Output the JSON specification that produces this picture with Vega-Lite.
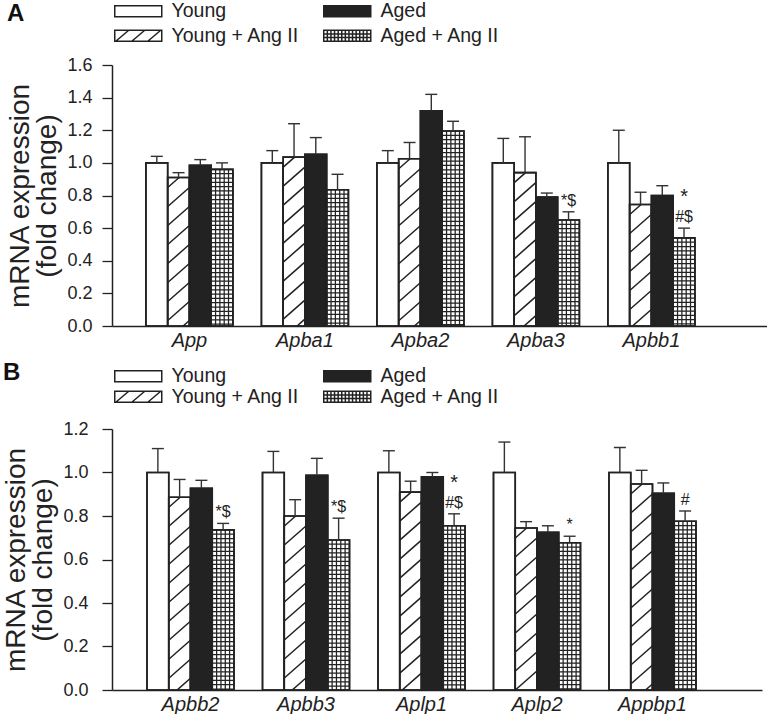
{
  "$schema": "https://vega.github.io/schema/vega-lite/v6.json",
  "padding": {"left": 2, "top": 1, "right": 0, "bottom": 0},
  "background": "white",
  "config": {"font": "Liberation Sans", "view": {"stroke": null}},
  "datasets": {
    "A": [
      {"gene": "App", "group": "Young", "value": 1.0, "err": 1.04},
      {"gene": "App", "group": "Young + Ang II", "value": 0.91, "err": 0.94},
      {"gene": "App", "group": "Aged", "value": 0.985, "err": 1.02},
      {"gene": "App", "group": "Aged + Ang II", "value": 0.96, "err": 1.0},
      {"gene": "Apba1", "group": "Young", "value": 1.0, "err": 1.075},
      {"gene": "Apba1", "group": "Young + Ang II", "value": 1.035, "err": 1.24},
      {"gene": "Apba1", "group": "Aged", "value": 1.053, "err": 1.155},
      {"gene": "Apba1", "group": "Aged + Ang II", "value": 0.835, "err": 0.93},
      {"gene": "Apba2", "group": "Young", "value": 1.0, "err": 1.075},
      {"gene": "Apba2", "group": "Young + Ang II", "value": 1.025, "err": 1.125},
      {"gene": "Apba2", "group": "Aged", "value": 1.32, "err": 1.42},
      {"gene": "Apba2", "group": "Aged + Ang II", "value": 1.195, "err": 1.255},
      {"gene": "Apba3", "group": "Young", "value": 1.0, "err": 1.15},
      {"gene": "Apba3", "group": "Young + Ang II", "value": 0.94, "err": 1.16},
      {"gene": "Apba3", "group": "Aged", "value": 0.79, "err": 0.815},
      {"gene": "Apba3", "group": "Aged + Ang II", "value": 0.65, "err": 0.7, "ann": "*$"},
      {"gene": "Apbb1", "group": "Young", "value": 1.0, "err": 1.2},
      {"gene": "Apbb1", "group": "Young + Ang II", "value": 0.745, "err": 0.82},
      {"gene": "Apbb1", "group": "Aged", "value": 0.8, "err": 0.86},
      {"gene": "Apbb1", "group": "Aged + Ang II", "value": 0.54, "err": 0.6, "ann": "#$", "ann2": "*"}
    ],
    "B": [
      {"gene": "Apbb2", "group": "Young", "value": 1.0, "err": 1.11},
      {"gene": "Apbb2", "group": "Young + Ang II", "value": 0.886, "err": 0.968},
      {"gene": "Apbb2", "group": "Aged", "value": 0.927, "err": 0.964},
      {"gene": "Apbb2", "group": "Aged + Ang II", "value": 0.736, "err": 0.766, "ann": "*$"},
      {"gene": "Apbb3", "group": "Young", "value": 1.0, "err": 1.097},
      {"gene": "Apbb3", "group": "Young + Ang II", "value": 0.8, "err": 0.875},
      {"gene": "Apbb3", "group": "Aged", "value": 0.987, "err": 1.065},
      {"gene": "Apbb3", "group": "Aged + Ang II", "value": 0.69, "err": 0.79, "ann": "*$"},
      {"gene": "Aplp1", "group": "Young", "value": 1.0, "err": 1.1},
      {"gene": "Aplp1", "group": "Young + Ang II", "value": 0.91, "err": 0.96},
      {"gene": "Aplp1", "group": "Aged", "value": 0.98, "err": 1.0},
      {"gene": "Aplp1", "group": "Aged + Ang II", "value": 0.755, "err": 0.81, "ann": "#$", "ann2": "*"},
      {"gene": "Aplp2", "group": "Young", "value": 1.0, "err": 1.14},
      {"gene": "Aplp2", "group": "Young + Ang II", "value": 0.745, "err": 0.774},
      {"gene": "Aplp2", "group": "Aged", "value": 0.725, "err": 0.755},
      {"gene": "Aplp2", "group": "Aged + Ang II", "value": 0.677, "err": 0.707, "ann": "*"},
      {"gene": "Appbp1", "group": "Young", "value": 1.0, "err": 1.115},
      {"gene": "Appbp1", "group": "Young + Ang II", "value": 0.947, "err": 1.01},
      {"gene": "Appbp1", "group": "Aged", "value": 0.904, "err": 0.952},
      {"gene": "Appbp1", "group": "Aged + Ang II", "value": 0.776, "err": 0.823, "ann": "#"}
    ]
  },
  "columns": 1,
  "align": "none",
  "spacing": 11,
  "resolve": {
    "scale": {"x": "independent", "y": "independent", "xOffset": "independent", "fill": "independent", "shape": "independent"},
    "legend": {"fill": "independent", "shape": "independent"}
  },
  "concat": [
    {
      "width": 655,
      "height": 261,
      "title": {"text": "A", "anchor": "start", "frame": "bounds", "fontSize": 24, "fontWeight": "bold", "color": "#111", "font": "Liberation Sans", "offset": 0, "dy": 25},
      "data": {"name": "A"},
      "encoding": {
        "x": {"field": "gene", "type": "nominal", "sort": null,
          "scale": {"paddingInner": 0.2468, "paddingOuter": 0.459, "align": 0.32},
          "axis": {"title": null, "ticks": false, "labelAngle": 0, "labelFont": "Liberation Sans", "labelFontSize": 20, "labelFontStyle": "italic", "labelColor": "#222", "labelPadding": 4, "domainColor": "#222", "domainWidth": 1.5}},
        "xOffset": {"field": "group", "type": "nominal", "sort": ["Young", "Young + Ang II", "Aged", "Aged + Ang II"]},
        "y": {"field": "value", "type": "quantitative", "scale": {"domain": [0, 1.6], "nice": false},
          "axis": {"title": ["mRNA expression", "(fold change)"], "values": [0, 0.2, 0.4, 0.6, 0.8, 1, 1.2, 1.4, 1.6], "format": ".1f", "grid": false, "domainColor": "#222", "domainWidth": 1.5, "tickColor": "#222", "tickWidth": 1.3, "tickSize": 10, "labelFont": "Liberation Sans", "labelFontSize": 18, "labelColor": "#222", "labelPadding": 10, "titleFont": "Liberation Sans", "titleFontSize": 28, "titleFontWeight": "normal", "titleColor": "#222", "titlePadding": 5, "titleLineHeight": 27}}
      },
      "layer": [
        {"mark": {"type": "bar", "stroke": "#222", "strokeWidth": 1.6},
          "encoding": {"fill": {"condition": {"test": "datum.group === 'Aged'", "value": "#222"}, "value": "white"}}},
        {"transform": [{"filter": "datum.group === 'Young + Ang II'"}],
          "mark": {"type": "point", "clip": true, "filled": false, "size": 4, "opacity": 1, "stroke": "#222", "strokeWidth": 1.5,
            "shape": "M-10.8,10L0.57,0M-10.8,29l21.6,-19m-21.6,38l21.6,-19m-21.6,38l21.6,-19m-21.6,38l21.6,-19m-21.6,38l21.6,-19m-21.6,38l21.6,-19m-21.6,38l21.6,-19m-21.6,38l21.6,-19m-21.6,38l21.6,-19m-21.6,38l21.6,-19m-21.6,38l21.6,-19m-21.6,38l21.6,-19m-21.6,38l21.6,-19m-21.6,38l21.6,-19m-21.6,38l21.6,-19"}},
        {"transform": [{"filter": "datum.group === 'Aged + Ang II'"}],
          "mark": {"type": "point", "clip": true, "filled": false, "size": 4, "opacity": 1, "stroke": "#222", "strokeWidth": 1.25,
            "shape": "M-6.48,0V300M-2.16,0V300M2.16,0V300M6.48,0V300M-10.8,4.3h21.6v4.3h-21.6v4.3h21.6v4.3h-21.6v4.3h21.6v4.3h-21.6v4.3h21.6v4.3h-21.6v4.3h21.6v4.3h-21.6v4.3h21.6v4.3h-21.6v4.3h21.6v4.3h-21.6v4.3h21.6v4.3h-21.6v4.3h21.6v4.3h-21.6v4.3h21.6v4.3h-21.6v4.3h21.6v4.3h-21.6v4.3h21.6v4.3h-21.6v4.3h21.6v4.3h-21.6v4.3h21.6v4.3h-21.6v4.3h21.6v4.3h-21.6v4.3h21.6v4.3h-21.6v4.3h21.6v4.3h-21.6v4.3h21.6v4.3h-21.6v4.3h21.6v4.3h-21.6v4.3h21.6v4.3h-21.6v4.3h21.6v4.3h-21.6v4.3h21.6v4.3h-21.6v4.3h21.6v4.3h-21.6v4.3h21.6v4.3h-21.6v4.3h21.6v4.3h-21.6v4.3h21.6v4.3h-21.6v4.3h21.6v4.3h-21.6v4.3h21.6v4.3h-21.6v4.3h21.6v4.3h-21.6v4.3h21.6v4.3h-21.6v4.3h21.6v4.3h-21.6v4.3h21.6v4.3h-21.6v4.3h21.6v4.3h-21.6v4.3h21.6v4.3h-21.6v4.3h21.6v4.3h-21.6v4.3h21.6v4.3h-21.6v4.3"}},
        {"mark": {"type": "bar", "fillOpacity": 0, "stroke": "#222", "strokeWidth": 1.6}},
        {"mark": {"type": "rule", "stroke": "#333", "strokeWidth": 1.4},
          "encoding": {"y2": {"field": "err"}}},
        {"mark": {"type": "tick", "size": 12, "thickness": 1.4, "color": "#333", "opacity": 1},
          "encoding": {"y": {"field": "err", "type": "quantitative", "scale": {"domain": [0, 1.6], "nice": false}}}},
        {"transform": [{"filter": "isValid(datum.ann)"}],
          "mark": {"type": "text", "baseline": "bottom", "align": "center", "dy": -3, "fontSize": 16, "font": "Liberation Sans", "fill": "#222"},
          "encoding": {"y": {"field": "err", "type": "quantitative", "scale": {"domain": [0, 1.6], "nice": false}}, "text": {"field": "ann"}}},
        {"transform": [{"filter": "isValid(datum.ann2)"}],
          "mark": {"type": "text", "baseline": "bottom", "align": "center", "dy": -21, "fontSize": 20, "font": "Liberation Sans", "fill": "#222"},
          "encoding": {"y": {"field": "err", "type": "quantitative", "scale": {"domain": [0, 1.6], "nice": false}}, "text": {"field": "ann2"}}},
        {"transform": [{"filter": "false"}],
          "mark": {"type": "point", "filled": true, "size": 4, "opacity": 1, "stroke": "#222", "strokeWidth": 1.4},
          "encoding": {
            "fill": {"field": "group", "type": "nominal",
              "scale": {"domain": ["Young", "Young + Ang II", "Aged", "Aged + Ang II"], "range": ["white", "white", "#222", "white"]},
              "legend": {"title": null, "orient": "none", "legendX": -7, "legendY": -64, "columns": 2, "labelFont": "Liberation Sans", "labelFontSize": 19.5, "labelColor": "#222", "labelOffset": 47, "labelLimit": 300, "columnPadding": 14, "rowPadding": 4, "symbolSize": 4,
                "encode": {"symbols": {"update": {"stroke": {"value": "#222"}, "strokeWidth": {"value": 1.4}}}}}},
            "shape": {"field": "group", "type": "nominal",
              "scale": {"domain": ["Young", "Young + Ang II", "Aged", "Aged + Ang II"], "range": [
                "M0,-5.5H47V5.5H0Z",
                "M0,-5.5H47V5.5H0Z M1,5.5L14,-5.5 M17,5.5L30,-5.5 M33,5.5L46,-5.5",
                "M0,-5.5H47V5.5H0Z",
                "M0,-5.5H47V5.5H0Z M0,-1.8H47 M0,1.8H47 M3.6,-5.5V5.5 M7.2,-5.5V5.5 M10.8,-5.5V5.5 M14.4,-5.5V5.5 M18,-5.5V5.5 M21.6,-5.5V5.5 M25.2,-5.5V5.5 M28.8,-5.5V5.5 M32.4,-5.5V5.5 M36,-5.5V5.5 M39.6,-5.5V5.5 M43.2,-5.5V5.5"]},
              "legend": {"title": null, "orient": "none", "legendX": -7, "legendY": -64, "columns": 2, "labelFont": "Liberation Sans", "labelFontSize": 19.5, "labelColor": "#222", "labelOffset": 47, "labelLimit": 300, "columnPadding": 14, "rowPadding": 4, "symbolSize": 4,
                "encode": {"symbols": {"update": {"stroke": {"value": "#222"}, "strokeWidth": {"value": 1.4}}}}}}
          }}
      ]
    },
    {
      "width": 650,
      "height": 261,
      "title": {"text": "B", "anchor": "start", "frame": "bounds", "fontSize": 24, "fontWeight": "bold", "color": "#111", "font": "Liberation Sans", "offset": 0, "dy": 19},
      "data": {"name": "B"},
      "encoding": {
        "x": {"field": "gene", "type": "nominal", "sort": null,
          "scale": {"paddingInner": 0.2468, "paddingOuter": 0.4373, "align": 0.3465},
          "axis": {"title": null, "ticks": false, "labelAngle": 0, "labelFont": "Liberation Sans", "labelFontSize": 20, "labelFontStyle": "italic", "labelColor": "#222", "labelPadding": 4, "domainColor": "#222", "domainWidth": 1.5}},
        "xOffset": {"field": "group", "type": "nominal", "sort": ["Young", "Young + Ang II", "Aged", "Aged + Ang II"]},
        "y": {"field": "value", "type": "quantitative", "scale": {"domain": [0, 1.2], "nice": false},
          "axis": {"title": ["mRNA expression", "(fold change)"], "values": [0, 0.2, 0.4, 0.6, 0.8, 1, 1.2], "format": ".1f", "grid": false, "domainColor": "#222", "domainWidth": 1.5, "tickColor": "#222", "tickWidth": 1.3, "tickSize": 10, "labelFont": "Liberation Sans", "labelFontSize": 18, "labelColor": "#222", "labelPadding": 14, "titleFont": "Liberation Sans", "titleFontSize": 28, "titleFontWeight": "normal", "titleColor": "#222", "titlePadding": 5, "titleLineHeight": 27}}
      },
      "layer": [
        {"mark": {"type": "bar", "stroke": "#222", "strokeWidth": 1.6},
          "encoding": {"fill": {"condition": {"test": "datum.group === 'Aged'", "value": "#222"}, "value": "white"}}},
        {"transform": [{"filter": "datum.group === 'Young + Ang II'"}],
          "mark": {"type": "point", "clip": true, "filled": false, "size": 4, "opacity": 1, "stroke": "#222", "strokeWidth": 1.5,
            "shape": "M-10.8,10L0.57,0M-10.8,29l21.6,-19m-21.6,38l21.6,-19m-21.6,38l21.6,-19m-21.6,38l21.6,-19m-21.6,38l21.6,-19m-21.6,38l21.6,-19m-21.6,38l21.6,-19m-21.6,38l21.6,-19m-21.6,38l21.6,-19m-21.6,38l21.6,-19m-21.6,38l21.6,-19m-21.6,38l21.6,-19m-21.6,38l21.6,-19m-21.6,38l21.6,-19m-21.6,38l21.6,-19"}},
        {"transform": [{"filter": "datum.group === 'Aged + Ang II'"}],
          "mark": {"type": "point", "clip": true, "filled": false, "size": 4, "opacity": 1, "stroke": "#222", "strokeWidth": 1.25,
            "shape": "M-6.48,0V300M-2.16,0V300M2.16,0V300M6.48,0V300M-10.8,4.3h21.6v4.3h-21.6v4.3h21.6v4.3h-21.6v4.3h21.6v4.3h-21.6v4.3h21.6v4.3h-21.6v4.3h21.6v4.3h-21.6v4.3h21.6v4.3h-21.6v4.3h21.6v4.3h-21.6v4.3h21.6v4.3h-21.6v4.3h21.6v4.3h-21.6v4.3h21.6v4.3h-21.6v4.3h21.6v4.3h-21.6v4.3h21.6v4.3h-21.6v4.3h21.6v4.3h-21.6v4.3h21.6v4.3h-21.6v4.3h21.6v4.3h-21.6v4.3h21.6v4.3h-21.6v4.3h21.6v4.3h-21.6v4.3h21.6v4.3h-21.6v4.3h21.6v4.3h-21.6v4.3h21.6v4.3h-21.6v4.3h21.6v4.3h-21.6v4.3h21.6v4.3h-21.6v4.3h21.6v4.3h-21.6v4.3h21.6v4.3h-21.6v4.3h21.6v4.3h-21.6v4.3h21.6v4.3h-21.6v4.3h21.6v4.3h-21.6v4.3h21.6v4.3h-21.6v4.3h21.6v4.3h-21.6v4.3h21.6v4.3h-21.6v4.3h21.6v4.3h-21.6v4.3h21.6v4.3h-21.6v4.3h21.6v4.3h-21.6v4.3h21.6v4.3h-21.6v4.3h21.6v4.3h-21.6v4.3h21.6v4.3h-21.6v4.3"}},
        {"mark": {"type": "bar", "fillOpacity": 0, "stroke": "#222", "strokeWidth": 1.6}},
        {"mark": {"type": "rule", "stroke": "#333", "strokeWidth": 1.4},
          "encoding": {"y2": {"field": "err"}}},
        {"mark": {"type": "tick", "size": 12, "thickness": 1.4, "color": "#333", "opacity": 1},
          "encoding": {"y": {"field": "err", "type": "quantitative", "scale": {"domain": [0, 1.2], "nice": false}}}},
        {"transform": [{"filter": "isValid(datum.ann)"}],
          "mark": {"type": "text", "baseline": "bottom", "align": "center", "dy": -3, "fontSize": 16, "font": "Liberation Sans", "fill": "#222"},
          "encoding": {"y": {"field": "err", "type": "quantitative", "scale": {"domain": [0, 1.2], "nice": false}}, "text": {"field": "ann"}}},
        {"transform": [{"filter": "isValid(datum.ann2)"}],
          "mark": {"type": "text", "baseline": "bottom", "align": "center", "dy": -21, "fontSize": 20, "font": "Liberation Sans", "fill": "#222"},
          "encoding": {"y": {"field": "err", "type": "quantitative", "scale": {"domain": [0, 1.2], "nice": false}}, "text": {"field": "ann2"}}},
        {"transform": [{"filter": "false"}],
          "mark": {"type": "point", "filled": true, "size": 4, "opacity": 1, "stroke": "#222", "strokeWidth": 1.4},
          "encoding": {
            "fill": {"field": "group", "type": "nominal",
              "scale": {"domain": ["Young", "Young + Ang II", "Aged", "Aged + Ang II"], "range": ["white", "white", "#222", "white"]},
              "legend": {"title": null, "orient": "none", "legendX": -7, "legendY": -63, "columns": 2, "labelFont": "Liberation Sans", "labelFontSize": 19.5, "labelColor": "#222", "labelOffset": 47, "labelLimit": 300, "columnPadding": 14, "rowPadding": 0, "symbolSize": 4,
                "encode": {"symbols": {"update": {"stroke": {"value": "#222"}, "strokeWidth": {"value": 1.4}}}}}},
            "shape": {"field": "group", "type": "nominal",
              "scale": {"domain": ["Young", "Young + Ang II", "Aged", "Aged + Ang II"], "range": [
                "M0,-5.5H47V5.5H0Z",
                "M0,-5.5H47V5.5H0Z M1,5.5L14,-5.5 M17,5.5L30,-5.5 M33,5.5L46,-5.5",
                "M0,-5.5H47V5.5H0Z",
                "M0,-5.5H47V5.5H0Z M0,-1.8H47 M0,1.8H47 M3.6,-5.5V5.5 M7.2,-5.5V5.5 M10.8,-5.5V5.5 M14.4,-5.5V5.5 M18,-5.5V5.5 M21.6,-5.5V5.5 M25.2,-5.5V5.5 M28.8,-5.5V5.5 M32.4,-5.5V5.5 M36,-5.5V5.5 M39.6,-5.5V5.5 M43.2,-5.5V5.5"]},
              "legend": {"title": null, "orient": "none", "legendX": -7, "legendY": -63, "columns": 2, "labelFont": "Liberation Sans", "labelFontSize": 19.5, "labelColor": "#222", "labelOffset": 47, "labelLimit": 300, "columnPadding": 14, "rowPadding": 0, "symbolSize": 4,
                "encode": {"symbols": {"update": {"stroke": {"value": "#222"}, "strokeWidth": {"value": 1.4}}}}}}
          }}
      ]
    }
  ]
}
